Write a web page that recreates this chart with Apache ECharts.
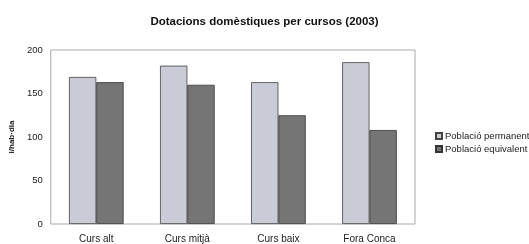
<!DOCTYPE html>
<html>
<head>
<meta charset="utf-8">
<script src="https://cdn.jsdelivr.net/npm/echarts@6/dist/echarts.min.js"></script>
<style>
  html, body { margin: 0; padding: 0; background: #fff; }
  #chart { width: 529px; height: 244px; }
</style>
</head>
<body>
<div id="chart"></div>
<script>
var categories = ['Curs alt', 'Curs mitjà', 'Curs baix', 'Fora Conca'];
var permanent = [169, 182, 163, 186];
var equivalent = [163, 160, 125, 108];
var yTicks = [0, 50, 100, 150, 200];

var myChart = echarts.init(document.getElementById('chart'));

var option = {
  animation: false,
  textStyle: { fontFamily: 'Liberation Sans, Arial, sans-serif' },
  title: {
    text: 'Dotacions domèstiques per cursos (2003)',
    left: 'center',
    top: 11,
    textStyle: { fontSize: 11.5, fontWeight: 'bold', color: '#111' }
  },
  legend: {
    orient: 'vertical',
    left: 430,
    top: 126,
    itemWidth: 6,
    itemHeight: 6,
    itemGap: 3,
    icon: 'rect',
    textStyle: { fontSize: 9.5, color: '#222', padding: [0, 0, 0, -2] },
    data: ['Població permanent', 'Població equivalent']
  },
  grid: {
    left: 50,
    top: 50,
    width: 365,
    height: 175,
    show: true,
    borderColor: '#aaa',
    borderWidth: 1
  },
  xAxis: {
    type: 'category',
    data: categories,
    axisLine: { show: false },
    axisTick: { show: false },
    axisLabel: { fontSize: 10, color: '#222', margin: 10 }
  },
  yAxis: {
    type: 'value',
    min: yTicks[0],
    max: yTicks[yTicks.length - 1],
    interval: 50,
    name: 'l/hab·dia',
    nameLocation: 'middle',
    nameRotate: 90,
    nameGap: 34,
    nameTextStyle: { fontSize: 8, fontWeight: 'bold', color: '#222' },
    axisLine: { show: false },
    axisTick: { show: false },
    splitLine: { show: false },
    axisLabel: { fontSize: 9.5, color: '#222', margin: 8 }
  },
  series: [
    {
      name: 'Població permanent',
      type: 'bar',
      data: permanent,
      barGap: '0%',
      barCategoryGap: '40%',
      itemStyle: { color: '#c9cbd6', borderColor: '#444', borderWidth: 0.8 }
    },
    {
      name: 'Població equivalent',
      type: 'bar',
      data: equivalent,
      itemStyle: { color: '#757575', borderColor: '#333', borderWidth: 0.8 }
    }
  ]
};

myChart.setOption(option);
</script>
</body>
</html>
